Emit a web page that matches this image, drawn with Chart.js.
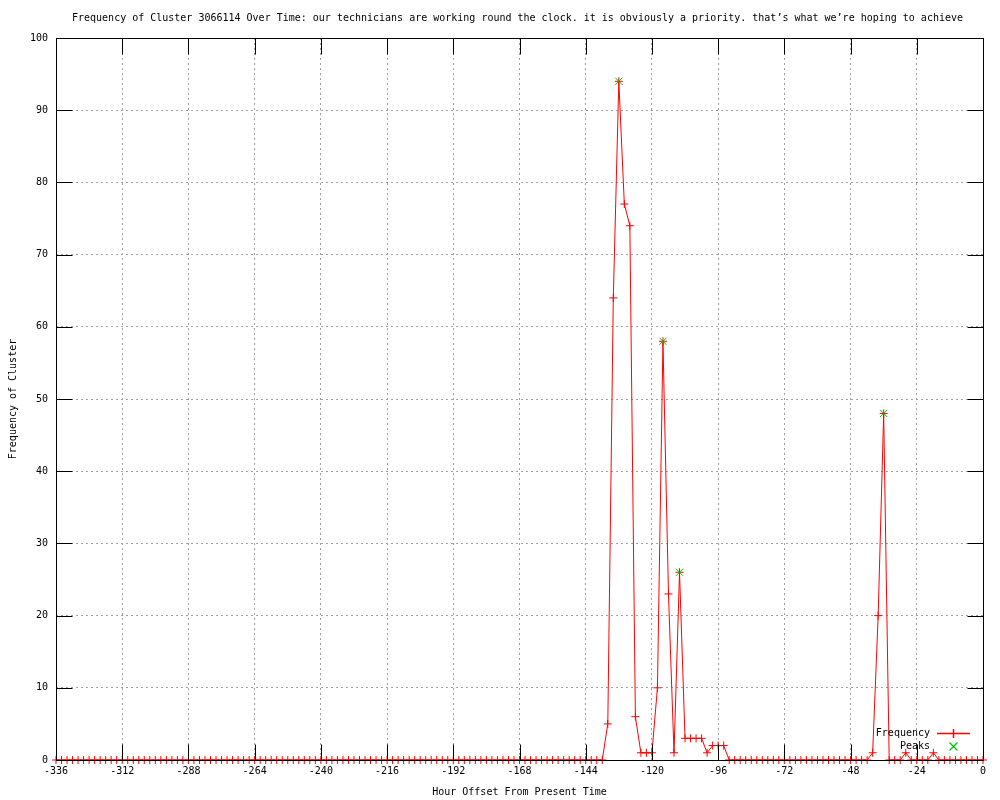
<!DOCTYPE html>
<html>
<head>
<meta charset="utf-8">
<script src="https://cdn.jsdelivr.net/npm/chart.js@4"></script>
<style>
  html, body { margin: 0; padding: 0; background: #fff; }
  #wrap { width: 1000px; height: 800px; }
</style>
</head>
<body>
<div id="wrap"><canvas id="myChart" width="1000" height="800"></canvas></div>
<script>
// hour offsets, every 2 hours from -336 to 0
let hours = []
for (let h = -336; h <= 0; h += 2) hours.push(h)

// frequency per 2-hour bucket
const freq = [
  0,0,0,0,0,0,0,0,0,0, 0,0,0,0,0,0,0,0,0,0,   // -336 .. -298
  0,0,0,0,0,0,0,0,0,0, 0,0,0,0,0,0,0,0,0,0,   // -296 .. -258
  0,0,0,0,0,0,0,0,0,0, 0,0,0,0,0,0,0,0,0,0,   // -256 .. -218
  0,0,0,0,0,0,0,0,0,0, 0,0,0,0,0,0,0,0,0,0,   // -216 .. -178
  0,0,0,0,0,0,0,0,0,0, 0,0,0,0,0,0,0,0,0,0,   // -176 .. -138
  5,64,94,77,74,6,1,1,1,10,58,23,1,26,3,3,3,3,1,2,2,2,   // -136 .. -94
  0,0,0,0,0,0,0,0,0,0, 0,0,0,0,0,0,0,0,0,0, 0,0,0,0,0,0, // -92 .. -42
  1,20,48,0,0,0,1,0,0,0,0,1,                  // -40 .. -18
  0,0,0,0,0,0,0,0,0                           // -16 .. 0
]

const peakHours = [-132, -116, -110, -36]
const peakValues = [94, 58, 26, 48]

const xTicks = [-336,-312,-288,-264,-240,-216,-192,-168,-144,-120,-96,-72,-48,-24,0]
const yTicks = [0,10,20,30,40,50,60,70,80,90,100]

const titleText = 'Frequency of Cluster 3066114 Over Time: our technicians are working round the clock. it is obviously a priority. that’s what we’re hoping to achieve'
const monoFont = 'DejaVu Sans Mono'
const lineRed = 'rgb(255, 0, 0)'
const peakGreen = 'rgb(0, 192, 0)'

// title, border and inward tick marks, gnuplot style
const framePlugin = {
  id: 'frame',
  afterDatasetsDraw(chart) {
    const c = chart.ctx
    const a = chart.chartArea
    const xs = chart.scales.x, ys = chart.scales.y
    c.save()
    c.font = '10px "' + monoFont + '"'
    c.fillStyle = '#000'
    c.textAlign = 'center'
    c.textBaseline = 'middle'
    c.fillText(titleText, 517.5, 18)

    c.strokeStyle = '#000'
    c.lineWidth = 1
    c.setLineDash([])
    c.beginPath()
    const L = Math.round(a.left) + 0.5, R = Math.round(a.right) + 0.5
    const T = Math.round(a.top) + 0.5, B = Math.round(a.bottom) + 0.5
    c.rect(L, T, R - L, B - T)
    yTicks.forEach(v => {
      const y = Math.round(ys.getPixelForValue(v)) + 0.5
      c.moveTo(L, y); c.lineTo(L + 16, y)
      c.moveTo(R, y); c.lineTo(R - 16, y)
    })
    xTicks.forEach(v => {
      const x = Math.round(xs.getPixelForValue(v)) + 0.5
      c.moveTo(x, B); c.lineTo(x, B - 16)
      c.moveTo(x, T); c.lineTo(x, T + 16)
    })
    c.stroke()
    c.restore()
  },
  // key, drawn last
  afterDraw(chart) {
    const c = chart.ctx
    c.save()
    c.font = '10px "' + monoFont + '"'
    c.textAlign = 'right'
    c.textBaseline = 'middle'
    c.fillStyle = '#000'
    c.fillText('Frequency', 930, 733)
    c.fillText('Peaks', 930, 746)
    c.setLineDash([])
    c.lineWidth = 1.5
    c.strokeStyle = lineRed
    c.beginPath()
    c.moveTo(937, 733.5); c.lineTo(970, 733.5)
    c.moveTo(953.5, 729); c.lineTo(953.5, 738)
    c.stroke()
    c.lineWidth = 1.2
    c.strokeStyle = peakGreen
    c.beginPath()
    c.moveTo(949.5, 742.5); c.lineTo(957.5, 750.5)
    c.moveTo(957.5, 742.5); c.lineTo(949.5, 750.5)
    c.stroke()
    c.restore()
  }
}

const ctx = document.getElementById('myChart')
new Chart(ctx, {
  type: 'line',
  data: {
    datasets: [{
      label: 'Frequency',
      data: hours.map((h, i) => ({x: h, y: freq[i]})),
      borderColor: lineRed,
      backgroundColor: lineRed,
      borderWidth: 1,
      pointStyle: 'cross',
      pointRadius: 4,
      pointBorderWidth: 1,
      pointBorderColor: lineRed,
      tension: 0,
      clip: false,
      order: 2
    },
    {
      label: 'Peaks',
      data: peakHours.map((h, i) => ({x: h, y: peakValues[i]})),
      showLine: false,
      borderColor: peakGreen,
      backgroundColor: peakGreen,
      pointStyle: 'crossRot',
      pointRadius: 5,
      pointBorderWidth: 1,
      pointBorderColor: peakGreen,
      clip: false,
      order: 1
    }]
  },
  plugins: [framePlugin],
  options: {
    responsive: false,
    animation: false,
    layout: { padding: { top: 38, right: 17, left: 0, bottom: 0 } },
    plugins: {
      legend: { display: false },
      tooltip: { enabled: false },
      title: { display: false }
    },
    scales: {
      x: {
        type: 'linear',
        min: -336,
        max: 0,
        afterFit(scale) { scale.height = 40 },
        afterBuildTicks(scale) { scale.ticks = xTicks.map(v => ({value: v})) },
        ticks: {
          color: '#000',
          font: { family: monoFont, size: 10 },
          padding: 5,
          maxRotation: 0,
          autoSkip: false,
          callback: v => String(v)
        },
        grid: { color: '#a0a0a0', lineWidth: 1, drawTicks: false },
        border: { display: false, dash: [2, 3] },
        title: {
          display: true,
          text: 'Hour Offset From Present Time',
          color: '#000',
          font: { family: monoFont, size: 10 },
          padding: { top: 0, bottom: 2 }
        }
      },
      y: {
        min: 0,
        max: 100,
        afterFit(scale) { scale.width = 56 },
        afterBuildTicks(scale) { scale.ticks = yTicks.map(v => ({value: v})) },
        ticks: {
          color: '#000',
          font: { family: monoFont, size: 10 },
          padding: 8,
          callback: v => String(v)
        },
        grid: { color: '#a0a0a0', lineWidth: 1, drawTicks: false },
        border: { display: false, dash: [2, 3] },
        title: {
          display: true,
          text: 'Frequency of Cluster',
          color: '#000',
          font: { family: monoFont, size: 10 },
          padding: { top: 7, bottom: 0 }
        }
      }
    }
  }
});
</script>
</body>
</html>
